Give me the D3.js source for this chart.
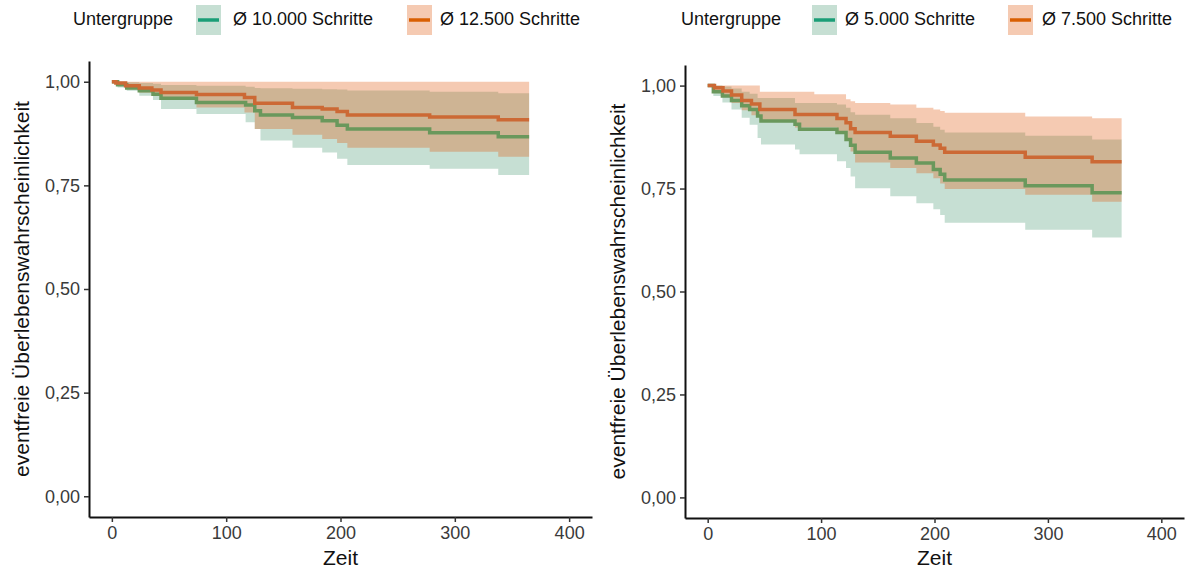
<!DOCTYPE html>
<html><head><meta charset="utf-8">
<script src="https://cdn.jsdelivr.net/npm/d3@7"></script>
<style>body{margin:0;background:#fff;} svg{display:block;font-family:"Liberation Sans",Arial,sans-serif;}</style>
</head><body><svg id="c" width="1187" height="572"></svg>
<script>
// ---------- data ----------
const xTickValues = [0, 100, 200, 300, 400];
const yTickValues = [0, 0.25, 0.5, 0.75, 1];
const yTickLabels = ["0,00", "0,25", "0,50", "0,75", "1,00"];
const xTitle = "Zeit";
const yTitle = "eventfreie Überlebenswahrscheinlichkeit";
const legendTitle = "Untergruppe";
const leftGroupNames = ["Ø 10.000 Schritte", "Ø 12.500 Schritte"];
const rightGroupNames = ["Ø 5.000 Schritte", "Ø 7.500 Schritte"];

// left panel, Ø 10.000 Schritte
const leftGreenTime  = [0, 5, 13, 24, 36, 43, 74, 117, 125, 130, 158, 184, 197, 206, 278, 338, 365];
const leftGreenSurv  = [1.0, 0.993, 0.985, 0.978, 0.970, 0.960, 0.950, 0.944, 0.930, 0.920, 0.914, 0.906, 0.895, 0.886, 0.877, 0.867, 0.867];
const leftGreenLower = [1.0, 0.986, 0.978, 0.966, 0.956, 0.934, 0.922, 0.902, 0.886, 0.858, 0.841, 0.829, 0.814, 0.799, 0.790, 0.775, 0.775];
const leftGreenUpper = [1.0, 1.0, 0.999, 0.997, 0.995, 0.992, 0.990, 0.988, 0.985, 0.984, 0.983, 0.982, 0.981, 0.979, 0.976, 0.972, 0.972];
// left panel, Ø 12.500 Schritte
const leftOrangeTime  = [0, 3.5, 12, 24, 35, 43, 74, 116, 125, 158, 184, 197, 206, 278, 338, 365];
const leftOrangeSurv  = [1.0, 0.997, 0.990, 0.985, 0.980, 0.974, 0.969, 0.962, 0.948, 0.938, 0.934, 0.928, 0.920, 0.915, 0.908, 0.908];
const leftOrangeLower = [1.0, 0.990, 0.982, 0.974, 0.968, 0.958, 0.938, 0.926, 0.886, 0.872, 0.862, 0.852, 0.841, 0.831, 0.819, 0.819];
const leftOrangeUpper = [1.0, 1.0, 1.0, 1.0, 1.0, 1.0, 1.0, 1.0, 1.0, 1.0, 1.0, 1.0, 1.0, 1.0, 1.0, 1.0];

// right panel, Ø 5.000 Schritte
const rightGreenTime  = [0, 5, 13, 21, 30, 37, 44, 47, 77, 81, 114, 122, 126, 130, 161, 184, 199, 205, 209, 280, 339, 365];
const rightGreenSurv  = [1.0, 0.985, 0.975, 0.964, 0.951, 0.942, 0.926, 0.914, 0.906, 0.894, 0.886, 0.869, 0.855, 0.838, 0.824, 0.812, 0.796, 0.785, 0.771, 0.757, 0.740, 0.740];
const rightGreenLower = [1.0, 0.975, 0.959, 0.942, 0.922, 0.905, 0.873, 0.857, 0.845, 0.833, 0.816, 0.800, 0.779, 0.751, 0.731, 0.714, 0.700, 0.686, 0.667, 0.650, 0.631, 0.631];
const rightGreenUpper = [1.0, 1.0, 0.998, 0.993, 0.985, 0.980, 0.970, 0.970, 0.958, 0.958, 0.954, 0.946, 0.935, 0.929, 0.921, 0.909, 0.900, 0.893, 0.886, 0.878, 0.869, 0.869];
// right panel, Ø 7.500 Schritte
const rightOrangeTime  = [0, 6, 13.5, 21, 30, 38.6, 46, 77, 94, 114, 122, 126, 130, 161, 184, 199, 205, 209, 280, 339, 365];
const rightOrangeSurv  = [1.0, 0.995, 0.987, 0.977, 0.964, 0.955, 0.942, 0.930, 0.930, 0.920, 0.910, 0.895, 0.886, 0.877, 0.865, 0.856, 0.848, 0.838, 0.826, 0.815, 0.815];
const rightOrangeLower = [1.0, 0.985, 0.972, 0.958, 0.940, 0.928, 0.915, 0.898, 0.898, 0.886, 0.866, 0.840, 0.813, 0.800, 0.787, 0.775, 0.762, 0.749, 0.735, 0.718, 0.718];
const rightOrangeUpper = [1.0, 1.0, 1.0, 1.0, 1.0, 1.0, 0.985, 0.985, 0.979, 0.979, 0.967, 0.962, 0.958, 0.954, 0.946, 0.942, 0.938, 0.934, 0.925, 0.921, 0.921];

// ---------- styling ----------
const legendLineCols = ["#1b9e77", "#d95f02"];
const plotLineCols = ["#6a985c", "#cc6935"];
const fillCols = ["#2e8a5e", "#e05a0e"];
const bandAlphas = [0.27, 0.32];

function rows(t, s, lo, hi) { return t.map((d, i) => ({t: d, s: s[i], lo: lo[i], hi: hi[i]})); }

const panels = [
  {x0: 89, x1: 592, y0: 517, y1: 61, names: leftGroupNames,
   legendX: [73, 196, 407], legendTextX: [233, 440],
   series: [rows(leftGreenTime, leftGreenSurv, leftGreenLower, leftGreenUpper),
            rows(leftOrangeTime, leftOrangeSurv, leftOrangeLower, leftOrangeUpper)]},
  {x0: 685, x1: 1184, y0: 518, y1: 65, names: rightGroupNames,
   legendX: [681, 812, 1008], legendTextX: [845, 1042],
   series: [rows(rightGreenTime, rightGreenSurv, rightGreenLower, rightGreenUpper),
            rows(rightOrangeTime, rightOrangeSurv, rightOrangeLower, rightOrangeUpper)]}
];

const svg = d3.select("#c");

panels.forEach(p => {
  const x = d3.scaleLinear().domain([-20, 420]).range([p.x0, p.x1]);
  const y = d3.scaleLinear().domain([-0.05, 1.05]).range([p.y0, p.y1]);
  const g = svg.append("g");

  const line = d3.line().curve(d3.curveStepAfter).x(d => x(d.t)).y(d => y(d.s));
  const area = d3.area().curve(d3.curveStepAfter).x(d => x(d.t)).y0(d => y(d.lo)).y1(d => y(d.hi));

  p.series.forEach((s, i) => {
    g.append("path").attr("d", area(s)).attr("fill", fillCols[i]).attr("fill-opacity", bandAlphas[i]);
  });
  p.series.forEach((s, i) => {
    g.append("path").attr("d", line(s)).attr("fill", "none")
      .attr("stroke", plotLineCols[i]).attr("stroke-width", 3.5);
  });

  // axes
  const xa = g.append("g").attr("transform", `translate(0,${p.y0})`)
    .call(d3.axisBottom(x).tickValues(xTickValues).tickSize(5).tickSizeOuter(0).tickPadding(4));
  const ya = g.append("g").attr("transform", `translate(${p.x0},0)`)
    .call(d3.axisLeft(y).tickValues(yTickValues).tickFormat((d, i) => yTickLabels[i]).tickSize(5).tickSizeOuter(0).tickPadding(4));
  [xa, ya].forEach(a => {
    a.select(".domain").attr("stroke", "#111").attr("stroke-width", 2);
    a.selectAll(".tick line").attr("stroke", "#333").attr("stroke-width", 1.5);
    a.selectAll(".tick text").attr("fill", "#3a3a3a").style("font-size", "18px")
      .style("font-family", "Liberation Sans, Arial, sans-serif");
  });

  // titles
  g.append("text").attr("x", (p.x0 + p.x1) / 2).attr("y", 565).attr("text-anchor", "middle")
    .style("font-size", "21px").attr("fill", "#111").text(xTitle);
  const cy = (p.y0 + p.y1) / 2;
  g.append("text").attr("transform", `translate(${p.x0 - 60},${cy}) rotate(-90)`)
    .attr("text-anchor", "middle").style("font-size", "21px").attr("fill", "#111").text(yTitle);

  // legend
  const lg = g.append("g");
  lg.append("text").attr("x", p.legendX[0]).attr("y", 25).style("font-size", "18px").attr("fill", "#111").text(legendTitle);
  [0, 1].forEach(i => {
    const kx = p.legendX[i + 1];
    lg.append("rect").attr("x", kx).attr("y", 5).attr("width", 25).attr("height", 30)
      .attr("fill", fillCols[i]).attr("fill-opacity", bandAlphas[i]);
    lg.append("line").attr("x1", kx + 2).attr("x2", kx + 23).attr("y1", 20).attr("y2", 20)
      .attr("stroke", legendLineCols[i]).attr("stroke-width", 3.5);
    lg.append("text").attr("x", p.legendTextX[i]).attr("y", 25).style("font-size", "18px")
      .attr("fill", "#111").text(p.names[i]);
  });
});
</script></body></html>
